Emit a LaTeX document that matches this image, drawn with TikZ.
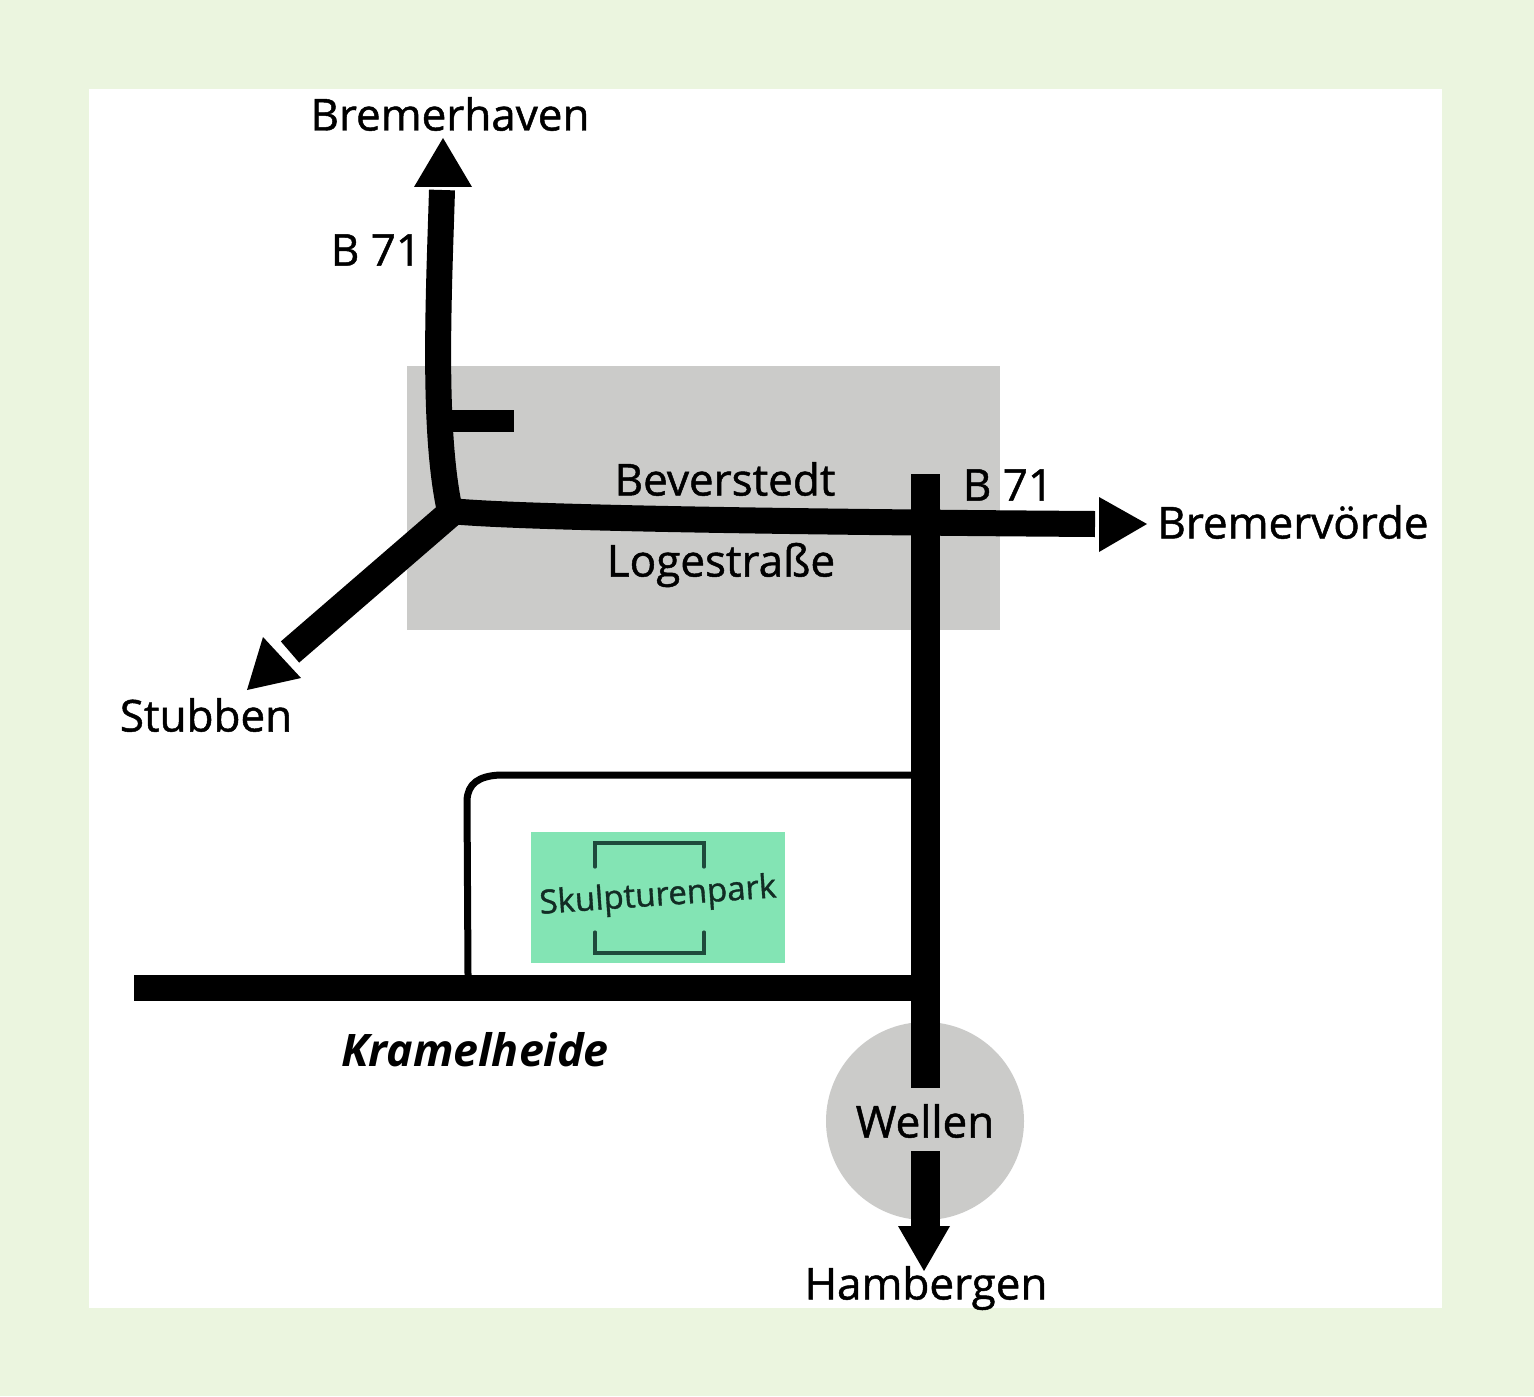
\documentclass[tikz,border=0pt]{standalone}
\usepackage{fontspec}
\setmainfont{Open Sans}
\newfontfamily\semi{Open Sans}[FakeBold=1.1]
\definecolor{bgc}{HTML}{EBF5DF}
\definecolor{greyc}{HTML}{CBCBC9}
\definecolor{parkc}{HTML}{83E4B4}
\definecolor{parkl}{HTML}{1E4A3C}
\tikzset{
  lbl/.style={inner sep=0pt,font=\fontsize{22pt}{24pt}\selectfont\semi,text=black},
  road/.style={draw=black,line width=13pt,line cap=butt},
  roadthin/.style={draw=black,line width=3.5pt},
  tip/.style={fill=black,draw=none},
  area/.style={fill=greyc,draw=none}
}
\begin{document}
\begin{tikzpicture}[x=0.5pt,y=-0.5pt]
\useasboundingbox (0,0) rectangle (1534,1396);
\fill[bgc] (0,0) rectangle (1534,1396);
\fill[white] (89,89) rectangle (1442,1308);
% grey areas
\fill[area] (407,366) rectangle (1000,630);
\fill[area] (925,1121) circle (99);
\fill[parkc] (531,832) rectangle (785,963);
% named points
\coordinate (junction) at (450,511);
\coordinate (north) at (442,190);
\coordinate (side) at (514,421);
\coordinate (sidestart) at (445,421);
\coordinate (east) at (1095,524);
\coordinate (sw) at (290,652);
\coordinate (vtop) at (925,474);
\coordinate (vbot1) at (925,1088);
\coordinate (vbot2) at (925,1151);
\coordinate (vbot3) at (925,1226);
\coordinate (kwest) at (134,988);
\coordinate (keast) at (925,988);
\coordinate (tjoin) at (925,775);
\coordinate (tdown) at (468,975);
% roads
\draw[road] (north) .. controls (439,290) and (432,430) .. (junction);
\draw[road,line width=11pt] (sidestart) -- (side);
\draw[road] (junction) .. controls (520,518) and (800,522) .. (east);
\draw[road,line width=14pt] (452,512) -- (sw);
\draw[road,line width=14.5pt] (vtop) -- (vbot1);
\draw[road,line width=14.5pt] (vbot2) -- (vbot3);
\draw[road] (kwest) -- (keast);
\draw[roadthin,line join=round] (tjoin) -- (500,775) .. controls (478,776) and (468,784) .. (467,800) -- (tdown);
% arrow tips
\fill[tip] (443,138) -- (472,187) -- (414,187) -- cycle;
\fill[tip] (1147,524) -- (1099,497) -- (1099,552) -- cycle;
\fill[tip] (247,690) -- (263,637) -- (301,678) -- cycle;
\fill[tip] (924,1271) -- (898,1226) -- (950,1226) -- cycle;
% park mark
\draw[parkl,line width=1.6pt,line cap=round] (595,867) -- (595,843) -- (704,843) -- (704,867);
\draw[parkl,line width=1.6pt,line cap=round] (595,932) -- (595,953) -- (704,953) -- (704,932);
% labels
\node[lbl] (bremerhaven) at (450,114) {Bremerhaven};
\node[lbl] (b71a) at (376,250) {B 71};
\node[lbl] (beverstedt) at (725,479) {Beverstedt};
\node[lbl] (b71b) at (1008,485) {B 71};
\node[lbl] (bremervoerde) at (1293,522) {Bremervörde};
\node[lbl] (logestrasse) at (721,565) {Logestraße};
\node[lbl] (stubben) at (206,715) {Stubben};
\node[lbl,font=\fontsize{22.4pt}{24pt}\selectfont\bfseries\itshape] (kramelheide) at (475,1050) {Kramelheide};
\node[lbl] (wellen) at (925,1121) {Wellen};
\node[lbl] (hambergen) at (926,1288) {Hambergen};
\node[lbl,font=\fontsize{16.5pt}{20pt}\selectfont\semi,rotate=4,text=parkl!60!black] (skulpturenpark) at (658,897) {Skulpturenpark};
\end{tikzpicture}
\end{document}
